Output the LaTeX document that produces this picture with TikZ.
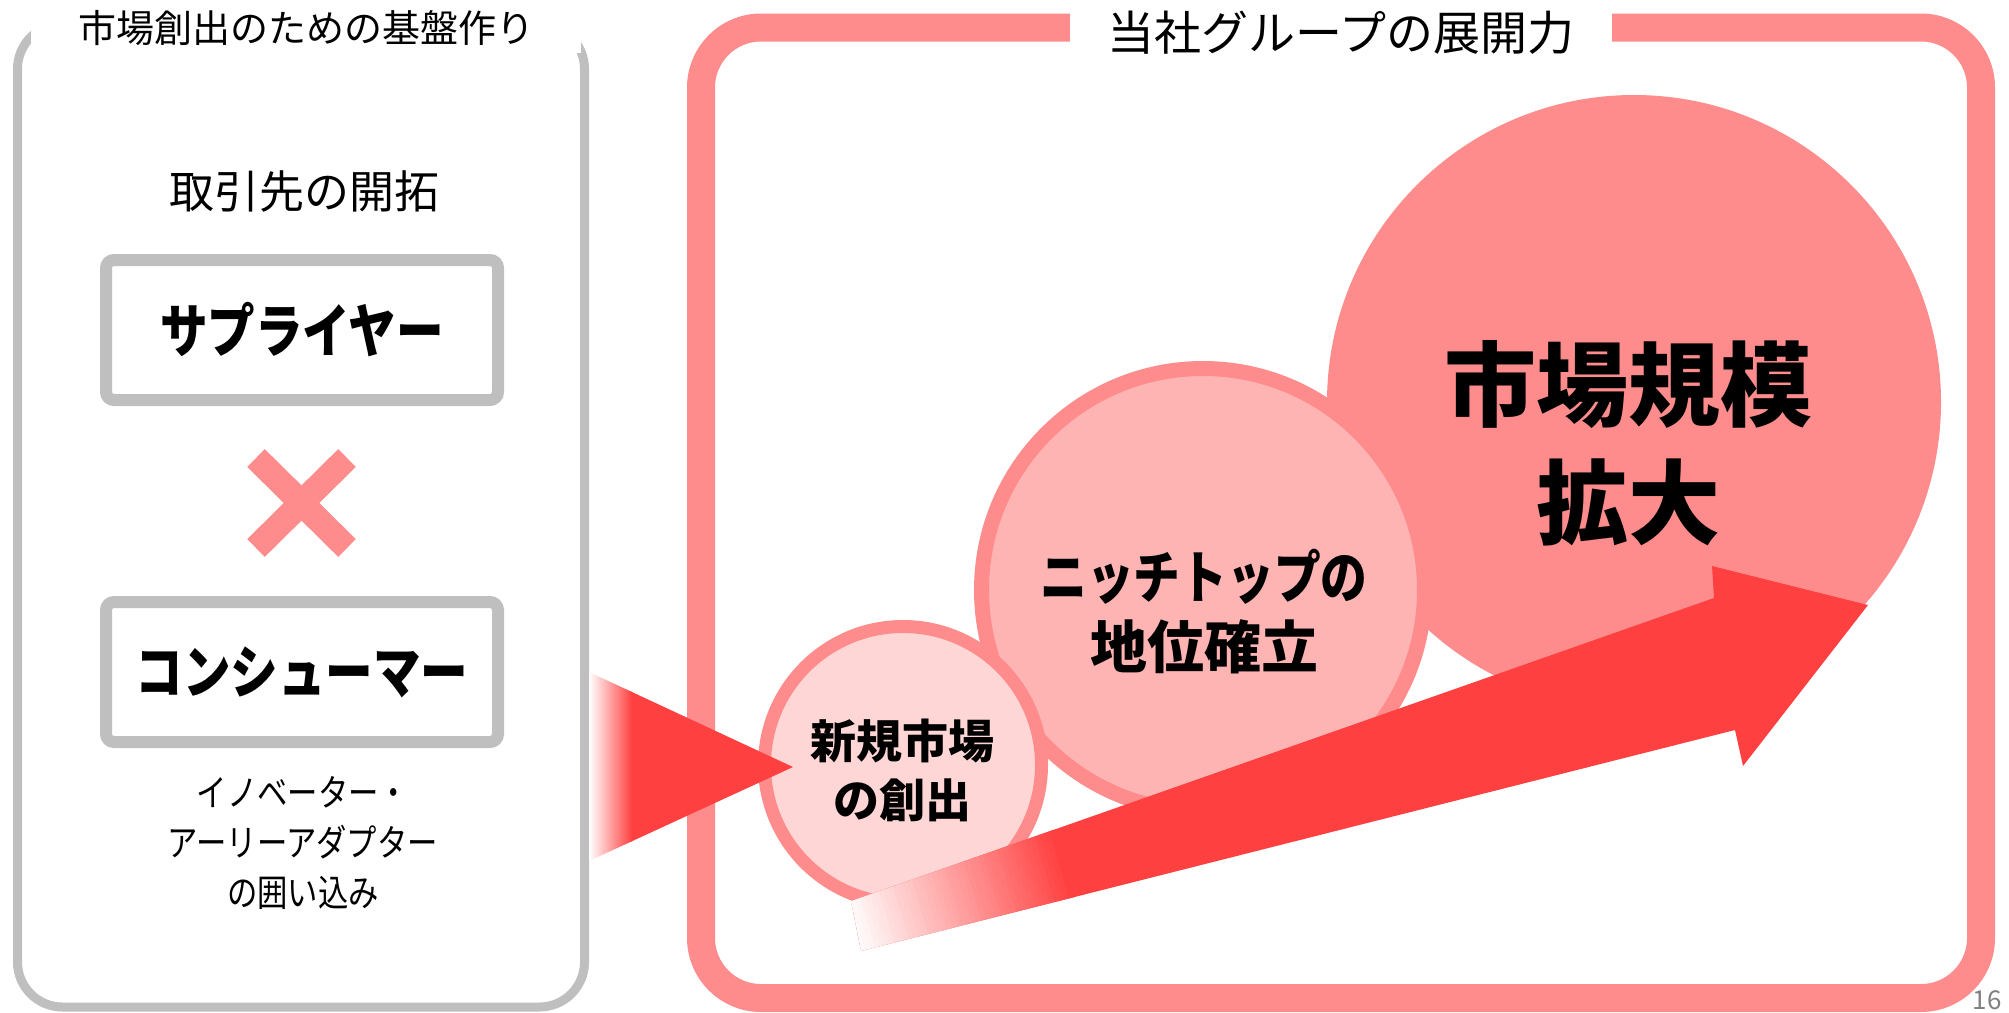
\documentclass[tikz,border=0pt]{standalone}
\usepackage{fontspec}
\setmainfont{Noto Sans CJK JP}
\newfontfamily\jpc[FakeStretch=0.82]{Noto Sans CJK JP}
\definecolor{salmon}{HTML}{FF8C8C}
\definecolor{midpink}{HTML}{FFB4B4}
\definecolor{lightpink}{HTML}{FFD6D6}
\definecolor{gframe}{HTML}{BFBFBF}
\definecolor{arrowred}{HTML}{FF4040}
\definecolor{pgnum}{HTML}{808080}
\begin{document}
\begin{tikzpicture}[x=1pt,y=-1pt,
  grayframe/.style={draw=gframe, line width=9pt, rounded corners=45pt},
  pinkframe/.style={draw=salmon, line width=28pt, rounded corners=60pt},
  graybox/.style={draw=gframe, line width=12pt, rounded corners=8pt, fill=white,
     minimum width=392pt, minimum height=140pt, inner sep=0pt,
     font=\jpc\bfseries\fontsize{58}{62}\selectfont},
  titlebox/.style={fill=white, inner sep=0pt, minimum height=50pt},
  bubble/.style={circle, inner sep=0pt},
  jtext/.style={align=center, inner sep=0pt},
  crossbar/.style={draw=salmon, line width=25pt},
]
\useasboundingbox (0,0) rectangle (2009,1012);

% ---------- right panel frame ----------
\draw[pinkframe] (701,27.5) rectangle (1981,998);

% ---------- circles ----------
\node[bubble, fill=salmon, minimum size=614pt] (cbig) at (1634,402) {};
\node[bubble, fill=midpink, draw=salmon, line width=15pt, minimum size=443pt] (cmid) at (1203,590) {};
\node[bubble, fill=lightpink, draw=salmon, line width=13pt, minimum size=277pt] (csmall) at (903,765) {};

% ---------- big rising arrow ----------
\coordinate (A1) at (851,901);
\coordinate (A2) at (1714,598);
\coordinate (A3) at (1712,566);
\coordinate (A4) at (1868,605);
\coordinate (A5) at (1743,766);
\coordinate (A6) at (1735,730);
\coordinate (A7) at (861,951);
\fill[arrowred] (A1) -- (A2) -- (A3) -- (A4) -- (A5) -- (A6) -- (A7) -- cycle;
\begin{scope}
  \clip (A1) -- (A2) -- (A3) -- (A4) -- (A5) -- (A6) -- (A7) -- cycle;
  \begin{scope}[shift={(856,926)}, rotate=16.8]
    \foreach \i in {0,...,44}{
      \pgfmathtruncatemacro{\p}{100*\i/44}
      \fill[arrowred!\p!white] (\i*5-8,-140) rectangle (\i*5-2,140);
    }
  \end{scope}
\end{scope}

% ---------- left panel ----------
\draw[grayframe] (17.5,24) rectangle (584.5,1007);
\node[titlebox, minimum width=550pt, font=\fontsize{38}{42}\selectfont] (ltitle) at (306,28) {市場創出のための基盤作り};
\node[jtext, font=\fontsize{45}{50}\selectfont] (kaitaku) at (304,192) {取引先の開拓};
\node[graybox] (sup) at (302,330) {サプライヤー};
\node[inner sep=0pt] (cross) at (301.5,503) {};
\draw[crossbar] (256,458) -- (cross.center) -- (347,548);
\draw[crossbar] (347,458) -- (cross.center) -- (256,548);
\node[graybox] (con) at (302,672) {コンシューマー};
\node[jtext, font=\jpc\fontsize{37}{50}\selectfont] (inno) at (303,843) {イノベーター・\\アーリーアダプター\\の囲い込み};

% ---------- triangle arrow ----------
\coordinate (T1) at (589,672);
\coordinate (T2) at (793,767);
\coordinate (T3) at (589,861);
\begin{scope}
  \clip (T1) -- (T2) -- (T3) -- cycle;
  \fill[arrowred] (630,660) rectangle (800,870);
  \shade[left color=white, right color=arrowred] (589,660) rectangle (632,870);
\end{scope}

% ---------- right panel title ----------
\node[titlebox, minimum width=542pt, font=\fontsize{47}{52}\selectfont] (rtitle) at (1341,33) {当社グループの展開力};

% ---------- circle texts ----------
\node[jtext, font=\bfseries\fontsize{92}{118}\selectfont] (tbig) at (1628,443) {市場規模\\拡大};
\node[jtext, font=\bfseries\fontsize{57}{70}\selectfont] (tmid) at (1204,612) {{\jpc ニッチトップの}\\地位確立};
\node[jtext, font=\bfseries\fontsize{46}{59}\selectfont] (tsmall) at (902,770) {新規市場\\の創出};

% ---------- page number ----------
\node[anchor=base, inner sep=0pt, text=pgnum, font=\fontsize{26}{28}\selectfont] (pg) at (1987,1009) {16};
\end{tikzpicture}
\end{document}
